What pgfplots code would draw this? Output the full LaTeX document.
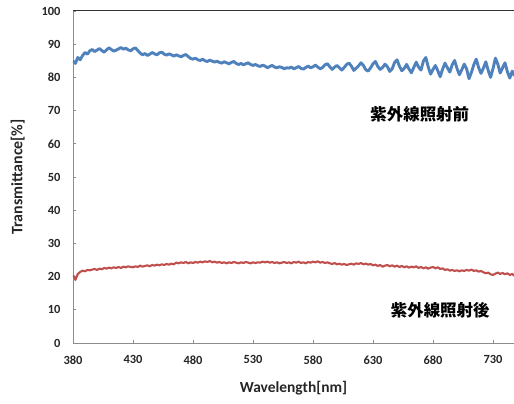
\documentclass[border=0pt]{standalone}
\usepackage{pgfplots}
\pgfplotsset{compat=1.18}
\usepackage{fontspec}
\setmainfont{Carlito}
\newfontfamily\cjk{Noto Sans CJK JP}
\definecolor{xlblue}{HTML}{4F81BD}
\definecolor{xlred}{HTML}{C0504D}
\definecolor{axgray}{HTML}{8C8C8C}
\begin{document}
\begin{tikzpicture}
\begin{axis}[
  scale only axis, width=441bp, height=332bp,
  xmin=380, xmax=747.5, ymin=0, ymax=100,
  axis x line*=bottom, axis y line*=left,
  axis line style={axgray, line width=1pt},
  xtick={380,430,...,730}, ytick={0,10,...,100},
  tick align=inside, major tick length=3bp,
  tick style={axgray, line width=0.8pt},
  /pgf/number format/assume math mode=true,
  ticklabel style={font=\fontsize{12.5}{13}\selectfont\bfseries, text=black!85},
  xticklabel style={yshift=-9bp},
  yticklabel style={xshift=-9bp},
  xlabel={Wavelength[nm]},
  ylabel={Transmittance[\%]},
  xlabel style={font=\fontsize{15.5}{16}\selectfont\bfseries, text=black!85, yshift=-10bp},
  ylabel style={font=\fontsize{16}{16}\selectfont\bfseries, text=black!85, yshift=10bp},
  clip=true,
]
\addplot[xlblue, line width=2.9bp, line join=round] coordinates {
(380,85.0)(382,84.2)(384,86.0)(386,85.3)(388,86.6)(390,87.5)(392,87.0)(394,88.0)(396,88.4)(398,87.8)
(400,88.2)(402,88.7)(404,88.1)(406,87.6)(408,88.3)(410,88.9)(412,88.4)(414,87.9)(416,88.2)(418,88.6)
(420,89.0)(422,88.5)(424,88.8)(426,88.3)(428,88.0)(430,88.6)(432,88.9)(434,88.1)(436,87.3)(438,86.8)
(440,87.2)(442,86.6)(444,87.0)(446,87.5)(448,87.1)(450,86.8)(452,87.4)(454,87.6)(456,87.0)(458,86.7)
(460,87.1)(462,86.8)(464,86.4)(466,86.8)(468,86.5)(470,86.2)(472,86.6)(474,86.9)(476,86.3)(478,85.7)
(480,85.5)(482,85.8)(484,85.3)(486,85.1)(488,85.5)(490,85.0)(492,84.8)(494,85.2)(496,84.9)(498,84.6)
(500,84.9)(502,84.5)(504,84.3)(506,84.7)(508,84.4)(510,84.1)(512,84.5)(514,84.8)(516,84.2)(518,83.9)
(520,84.2)(522,83.8)(524,84.1)(526,84.4)(528,83.9)(530,83.6)(532,83.9)(534,83.5)(536,83.3)(538,83.7)
(540,83.4)(542,82.9)(544,83.3)(546,83.6)(548,83.1)(550,82.9)(552,83.2)(554,83.0)(556,82.6)(558,82.9)
(560,82.8)(562,83.1)(564,82.6)(566,82.9)(568,83.3)(570,82.7)(572,82.5)(574,83.0)(576,83.4)(578,82.9)
(580,83.2)(582,83.7)(584,83.1)(586,82.6)(588,83.0)(590,83.8)(592,84.1)(594,83.2)(596,82.4)(598,83.1)
(600,83.6)(602,82.9)(604,82.2)(606,83.0)(608,83.9)(610,84.3)(612,83.4)(614,82.1)(616,82.8)(618,83.5)
(620,84.4)(622,83.6)(624,82.3)(626,81.9)(628,82.9)(630,84.1)(632,84.8)(634,83.3)(636,82.4)(638,83.0)
(640,84.0)(642,83.2)(644,81.8)(646,82.6)(648,84.5)(650,85.3)(652,83.4)(654,82.0)(656,82.7)(658,83.9)
(660,82.5)(662,81.4)(664,83.0)(666,84.6)(668,83.1)(670,82.2)(672,84.9)(674,86.0)(676,83.2)(678,81.0)
(680,82.4)(682,83.6)(684,82.0)(686,80.2)(688,82.5)(690,84.3)(692,82.9)(694,81.6)(696,83.8)(698,85.1)
(700,82.7)(702,80.8)(704,82.3)(706,84.0)(708,82.6)(710,79.6)(712,81.5)(714,83.8)(716,85.5)(718,83.0)
(720,81.2)(722,82.8)(724,84.7)(726,82.1)(728,80.0)(730,82.6)(732,85.8)(734,84.0)(736,81.3)(738,82.9)
(740,84.4)(742,81.7)(744,79.8)(746,81.9)(748,80.5)
};
\addplot[xlred, line width=2.1bp, line join=round] coordinates {
(380,20.5)(382,19.0)(384,20.8)(386,21.4)(388,21.8)(390,21.6)(392,22.0)(394,21.9)(396,22.1)(398,22.3)
(400,22.0)(402,22.4)(404,22.2)(406,22.6)(408,22.4)(410,22.7)(412,22.5)(414,22.8)(416,22.6)(418,22.9)
(420,22.6)(422,23.0)(424,22.8)(426,23.1)(428,22.9)(430,22.8)(432,23.1)(434,22.9)(436,23.3)(438,23.0)
(440,23.2)(442,23.4)(444,23.1)(446,23.5)(448,23.3)(450,23.6)(452,23.4)(454,23.7)(456,23.5)(458,23.8)
(460,23.6)(462,23.9)(464,23.7)(466,24.2)(468,24.0)(470,24.3)(472,24.1)(474,24.4)(476,24.0)(478,24.3)
(480,24.1)(482,24.4)(484,24.2)(486,24.5)(488,24.3)(490,24.6)(492,24.4)(494,24.7)(496,24.3)(498,24.5)
(500,24.2)(502,24.4)(504,24.1)(506,24.3)(508,24.0)(510,24.3)(512,24.1)(514,24.4)(516,24.2)(518,24.0)
(520,24.3)(522,24.1)(524,24.4)(526,24.2)(528,24.0)(530,24.3)(532,24.1)(534,24.3)(536,24.2)(538,24.5)
(540,24.3)(542,24.5)(544,24.2)(546,24.4)(548,24.1)(550,24.3)(552,24.0)(554,24.2)(556,24.4)(558,24.1)
(560,24.3)(562,24.0)(564,24.4)(566,24.2)(568,24.5)(570,24.1)(572,24.3)(574,24.0)(576,24.4)(578,24.2)
(580,24.5)(582,24.3)(584,24.6)(586,24.2)(588,24.4)(590,24.1)(592,24.3)(594,24.0)(596,23.8)(598,24.1)
(600,23.7)(602,23.9)(604,23.6)(606,23.8)(608,23.5)(610,23.7)(612,23.9)(614,23.6)(616,24.0)(618,23.8)
(620,24.1)(622,23.7)(624,23.9)(626,23.6)(628,23.8)(630,23.4)(632,23.6)(634,23.2)(636,23.5)(638,23.0)
(640,23.3)(642,23.5)(644,23.1)(646,23.4)(648,23.0)(650,23.3)(652,22.9)(654,23.2)(656,22.8)(658,23.1)
(660,22.7)(662,23.0)(664,22.8)(666,23.1)(668,22.6)(670,22.9)(672,22.5)(674,22.8)(676,22.4)(678,22.7)
(680,22.9)(682,22.5)(684,22.8)(686,22.3)(688,22.5)(690,22.0)(692,22.2)(694,21.8)(696,22.0)(698,21.7)
(700,21.9)(702,21.6)(704,21.9)(706,21.7)(708,22.0)(710,21.8)(712,22.1)(714,21.7)(716,21.9)(718,21.5)
(720,21.7)(722,21.3)(724,21.0)(726,21.2)(728,20.7)(730,20.5)(732,20.9)(734,21.2)(736,20.8)(738,21.1)
(740,20.7)(742,21.0)(744,20.5)(746,20.8)(748,20.2)
};
\node[font=\cjk\fontsize{16.5}{17}\selectfont\bfseries] at (axis cs:669,69) {紫外線照射前};
\node[font=\cjk\fontsize{16.5}{17}\selectfont\bfseries] at (axis cs:686,10) {紫外線照射後};
\coordinate (O) at (rel axis cs:0,0);
\coordinate (T) at (rel axis cs:1,1);
\end{axis}
\draw[black!80, line width=1pt] (O |- T) -- (T);
\pgfresetboundingbox
\path[use as bounding box] ([xshift=-73bp,yshift=-61bp]O) rectangle ([yshift=11bp]T);
\end{tikzpicture}
\end{document}
